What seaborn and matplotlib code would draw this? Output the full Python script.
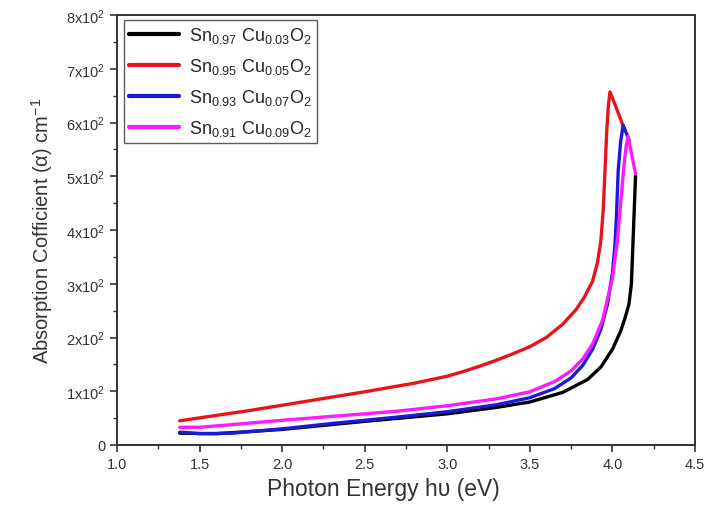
import numpy as np
import pandas as pd
import matplotlib
matplotlib.use("Agg")
import matplotlib.pyplot as plt
import seaborn as sns
from matplotlib.ticker import MultipleLocator, FuncFormatter

labels = [r"Sn$_{0.97}$ Cu$_{0.03}$O$_2$",
          r"Sn$_{0.95}$ Cu$_{0.05}$O$_2$",
          r"Sn$_{0.93}$ Cu$_{0.07}$O$_2$",
          r"Sn$_{0.91}$ Cu$_{0.09}$O$_2$"]
colors = ["#000000", "#e8141c", "#1a1adb", "#ff1aff"]

black_x = [1.38, 1.6, 2.0, 2.5, 3.0, 3.3, 3.5, 3.7, 3.85, 3.93, 4.0, 4.05, 4.08, 4.10, 4.115, 4.125, 4.135, 4.14]
black_y = [22, 21, 29, 44, 58, 70, 80, 98, 122, 145, 178, 212, 240, 262, 300, 380, 460, 500]

red_x = [1.38, 1.6, 1.8, 2.0, 2.2, 2.5, 2.8, 3.0, 3.1, 3.2, 3.3, 3.4, 3.5, 3.6, 3.7, 3.78, 3.83, 3.88, 3.91,
         3.93, 3.945, 3.955, 3.965, 3.975, 3.985, 4.02, 4.07]
red_y = [45, 55, 64, 74, 84, 99, 115, 128, 137, 147, 158, 170, 183, 200, 225, 252, 275, 305, 340,
         380, 440, 510, 580, 630, 657, 630, 590]

blue_x = [1.38, 1.5, 1.7, 2.0, 2.3, 2.5, 2.7, 3.0, 3.3, 3.5, 3.65, 3.75, 3.82, 3.88, 3.93, 3.97,
          4.0, 4.015, 4.025, 4.035, 4.05, 4.065, 4.1]
blue_y = [24, 21, 22, 30, 40, 46, 52, 62, 75, 88, 105, 125, 148, 178, 215, 262,
          320, 370, 430, 510, 565, 595, 568]

mag_x = [1.38, 1.5, 1.7, 2.0, 2.5, 2.7, 3.0, 3.3, 3.5, 3.65, 3.75, 3.82, 3.88, 3.94, 4.0, 4.03,
         4.05, 4.07, 4.085, 4.095, 4.14]
mag_y = [33, 33, 38, 46, 58, 63, 73, 86, 99, 118, 138, 160, 188, 232, 310, 380,
         450, 520, 560, 574, 505]

xs = [black_x, red_x, blue_x, mag_x]
ys = [black_y, red_y, blue_y, mag_y]

frames = []
for lab, x, y in zip(labels, xs, ys):
    frames.append(pd.DataFrame({"E": x, "alpha": y, "sample": lab}))
df = pd.concat(frames, ignore_index=True)

sns.set_style("ticks")
plt.rcParams['font.family'] = ['Liberation Sans', 'DejaVu Sans']
plt.rcParams['mathtext.fontset'] = 'custom'
plt.rcParams['mathtext.rm'] = 'Liberation Sans'
plt.rcParams['mathtext.it'] = 'Liberation Sans'

fig = plt.figure(figsize=(7.07, 5.10), dpi=100)
ax = fig.add_axes([0.1655, 0.1255, 0.8175, 0.843])

sns.lineplot(data=df, x="E", y="alpha", hue="sample", hue_order=labels,
             palette=colors, sort=False, estimator=None, units="sample",
             linewidth=2.4, ax=ax)

ax.set_xlim(1.0, 4.5)
ax.set_ylim(0, 800)
ax.xaxis.set_major_locator(MultipleLocator(0.5))
ax.xaxis.set_minor_locator(MultipleLocator(0.25))
ax.yaxis.set_major_locator(MultipleLocator(100))
ax.yaxis.set_minor_locator(MultipleLocator(50))
ax.xaxis.set_major_formatter(FuncFormatter(lambda v, p: f"{v:.1f}"))
ax.yaxis.set_major_formatter(FuncFormatter(lambda v, p: "0" if v == 0 else f"{int(round(v/100))}x10$^2$"))
ax.tick_params(which="major", direction="out", length=5, width=1.2, labelsize=10.5, colors="#333333")
ax.tick_params(which="minor", direction="out", length=3, width=1.0, colors="#333333")
for s in ax.spines.values():
    s.set_visible(True)
    s.set_linewidth(1.4)
    s.set_color("#333333")

ax.set_xlabel("Photon Energy hυ (eV)", fontsize=16.5, color="#333333", labelpad=5)
ax.xaxis.set_label_coords(0.46, -0.075)
ax.set_ylabel(r"Absorption Cofficient ($\alpha$) cm$^{-1}$", fontsize=14.5, color="#333333", labelpad=8)

leg = ax.legend(loc="upper left", bbox_to_anchor=(0.005, 0.997), frameon=True, fancybox=False,
                edgecolor="#333333", fontsize=13, handlelength=2.8, handletextpad=0.5,
                borderpad=0.3, labelspacing=0.6, borderaxespad=0.2)
leg.get_frame().set_linewidth(1.0)
for line in leg.get_lines():
    line.set_linewidth(3.0)

fig.savefig("out.png", dpi=100)
